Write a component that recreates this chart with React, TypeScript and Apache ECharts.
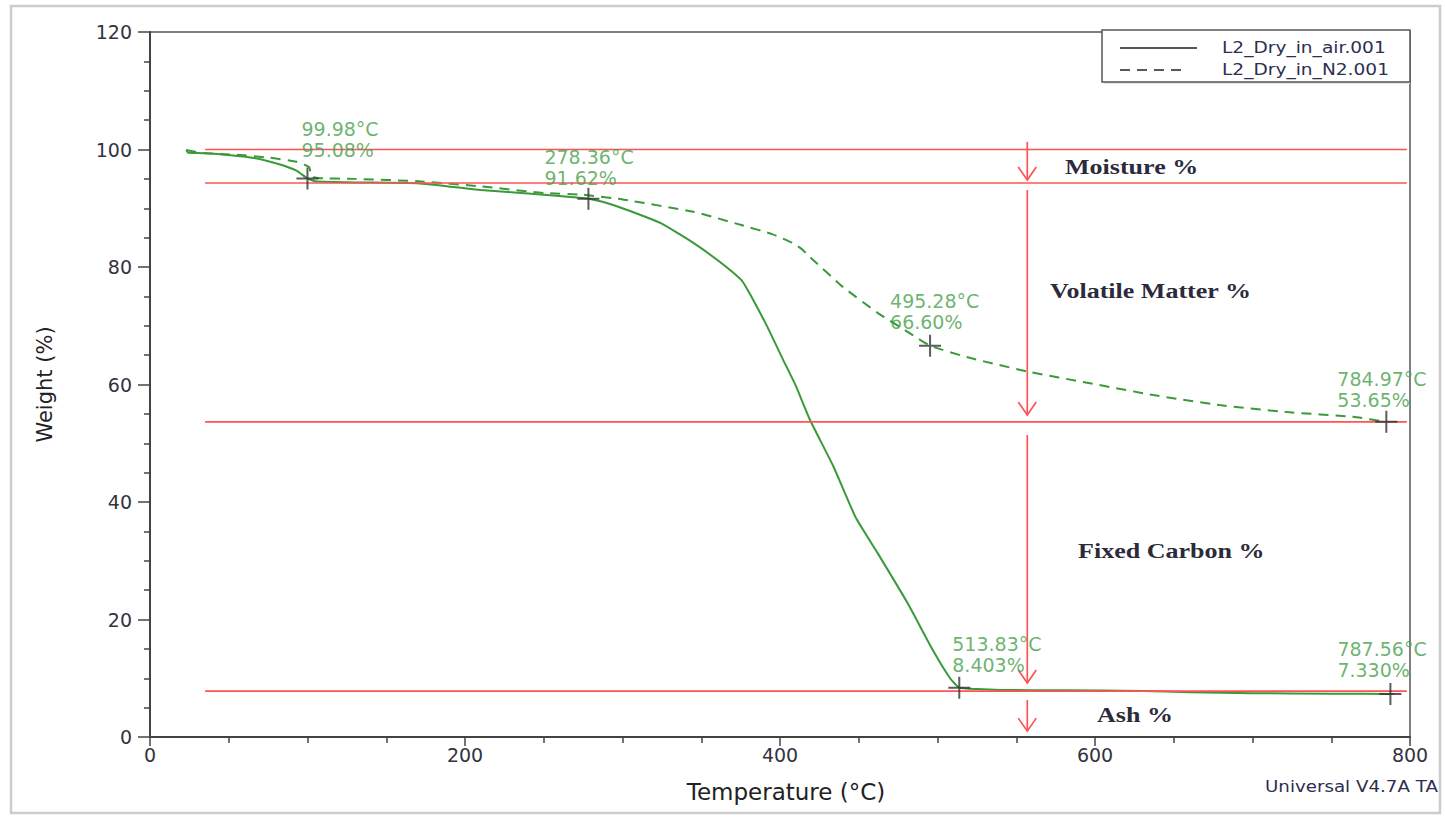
import React, { useEffect, useRef } from "react";
import * as echarts from "echarts";

// ---- data ----
const airTemp = [23, 24, 30, 44, 65, 82, 93, 99.98, 105, 130, 170, 210, 240, 260, 278.36, 290, 303, 324, 345, 366, 376, 383, 392, 402, 410, 419, 434, 448, 462, 481, 497, 508, 513.83, 525, 540, 580, 630, 660, 700, 750, 787.56, 790];
const airWeight = [99.9, 99.5, 99.4, 99.2, 98.6, 97.5, 96.4, 95.08, 94.6, 94.4, 94.25, 93.1, 92.5, 92.1, 91.62, 90.9, 89.7, 87.5, 84.1, 80.0, 77.6, 74.4, 69.8, 64.2, 59.8, 54.0, 46.0, 37.4, 31.3, 22.8, 14.8, 10.0, 8.403, 8.15, 8.0, 7.95, 7.85, 7.6, 7.45, 7.38, 7.33, 7.32];

const n2Temp = [23, 34, 55, 76, 93, 101, 102, 103, 108, 130, 170, 211, 250, 275, 300, 345, 376, 395, 408, 414, 419, 440, 462, 482, 495.28, 521, 559, 595, 637, 679, 722, 764, 784.97];
const n2Weight = [99.9, 99.4, 99.1, 98.6, 97.9, 97.0, 96.0, 95.3, 95.1, 95.0, 94.6, 93.7, 92.6, 92.3, 91.5, 89.4, 87.1, 85.6, 84.1, 83.0, 81.7, 76.6, 72.2, 68.8, 66.6, 64.5, 62.1, 60.3, 58.2, 56.5, 55.3, 54.5, 53.65];

const pointTemp = [99.98, 278.36, 495.28, 784.97, 513.83, 787.56];
const pointWeight = [95.08, 91.62, 66.6, 53.65, 8.403, 7.33];

const stepLevels = [100, 94.3, 53.65, 7.8];
const stepSpan = [35, 798];

const arrowTemp = 557;
const arrowFrom = [101.3, 93.1, 51.4, 6.3];
const arrowTo = [94.8, 54.8, 9.2, 1.0];

const seriesNames = ["L2_Dry_in_air.001", "L2_Dry_in_N2.001"];
const regionLabels = ["Moisture %", "Volatile Matter %", "Fixed Carbon %", "Ash %"];

// ---- styles ----
const GREEN = "#3a9a3a";
const LABEL_GREEN = "#46a04a";
const RED = "#ff5252";
const DARK = "#333340";
const LABEL_OFFSETS = [[-6, -60], [-44, -52], [-40, -55], [-49, -53], [-7, -54], [-53, -55]];
const REGION_POS = [[1065, 167], [1050, 291], [1078, 551], [1097, 715]];

export default function App() {
  const ref = useRef<HTMLDivElement>(null);

  useEffect(() => {
    if (!ref.current) return;
    const chart = echarts.init(ref.current, null, { renderer: "svg" });

    const airData = airTemp.map((t, i) => [t, airWeight[i]]);
    const n2Data = n2Temp.map((t, i) => [t, n2Weight[i]]);
    const pointData = pointTemp.map((t, i) => ({
      value: [t, pointWeight[i]],
      label: { offset: LABEL_OFFSETS[i] },
    }));
    const stepData = stepLevels.map((v) => [stepSpan[0], stepSpan[1], v]);
    const arrowData = arrowFrom.map((f, i) => [arrowTemp, f, arrowTo[i]]);

    const tickFont = { fontFamily: "DejaVu Sans", fontSize: 19, color: DARK };

    const option: any = {
      animation: false,
      backgroundColor: "#ffffff",
      grid: {
        left: 150,
        right: 35,
        top: 32,
        bottom: 80,
        show: true,
        borderColor: "#555",
        borderWidth: 1.5,
        backgroundColor: "transparent",
      },
      xAxis: {
        type: "value",
        min: 0,
        max: 800,
        interval: 200,
        name: "Temperature (°C)",
        nameLocation: "middle",
        nameGap: 43,
        nameTextStyle: { fontFamily: "DejaVu Sans", fontSize: 23, color: "#222", padding: [0, 0, 0, 12] },
        axisLine: { show: true, onZero: false, lineStyle: { color: "#444", width: 2 } },
        axisTick: { show: true, length: 9, lineStyle: { color: "#444", width: 1.5 } },
        minorTick: { show: true, splitNumber: 4, length: 6, lineStyle: { color: "#444", width: 1.5 } },
        axisLabel: { ...tickFont, margin: 8 },
        splitLine: { show: false },
      },
      yAxis: {
        type: "value",
        min: 0,
        max: 120,
        interval: 20,
        name: "Weight (%)",
        nameLocation: "middle",
        nameRotate: 90,
        nameGap: 95,
        nameTextStyle: { fontFamily: "DejaVu Sans", fontSize: 21, color: "#222" },
        axisLine: { show: true, onZero: false, lineStyle: { color: "#444", width: 2 } },
        axisTick: { show: true, length: 12, lineStyle: { color: "#444", width: 1.5 } },
        minorTick: { show: true, splitNumber: 4, length: 6, lineStyle: { color: "#444", width: 1.5 } },
        axisLabel: { ...tickFont, margin: 18 },
        splitLine: { show: false },
      },
      series: [
        {
          name: seriesNames[0],
          type: "line",
          data: airData,
          showSymbol: false,
          symbol: "none",
          smooth: 0.15,
          lineStyle: { color: GREEN, width: 2 },
          z: 3,
        },
        {
          name: seriesNames[1],
          type: "line",
          data: n2Data,
          showSymbol: false,
          symbol: "none",
          smooth: 0.15,
          lineStyle: { color: GREEN, width: 2, type: [10, 7] },
          z: 3,
        },
        {
          type: "custom",
          name: "steps",
          data: stepData,
          z: 4,
          silent: true,
          renderItem: (_p: any, api: any) => {
            const a = api.coord([api.value(0), api.value(2)]);
            const b = api.coord([api.value(1), api.value(2)]);
            return {
              type: "line",
              shape: { x1: a[0], y1: a[1], x2: b[0], y2: b[1] },
              style: { stroke: RED, lineWidth: 1.7 },
            };
          },
        },
        {
          type: "custom",
          name: "arrows",
          data: arrowData,
          z: 4,
          silent: true,
          renderItem: (_p: any, api: any) => {
            const a = api.coord([api.value(0), api.value(1)]);
            const b = api.coord([api.value(0), api.value(2)]);
            return {
              type: "group",
              children: [
                {
                  type: "line",
                  shape: { x1: a[0], y1: a[1], x2: b[0], y2: b[1] },
                  style: { stroke: RED, lineWidth: 1.7 },
                },
                {
                  type: "polyline",
                  shape: { points: [[b[0] - 9, b[1] - 13], [b[0], b[1]], [b[0] + 9, b[1] - 13]] },
                  style: { stroke: RED, lineWidth: 1.7, fill: "none" },
                },
              ],
            };
          },
        },
        {
          type: "scatter",
          name: "points",
          data: pointData,
          symbol: "path://M10,0 L12,0 L12,22 L10,22 Z M0,10 L22,10 L22,12 L0,12 Z",
          symbolSize: [22, 22],
          itemStyle: { color: "#333" },
          z: 6,
          label: {
            show: true,
            position: "inside",
            align: "left",
            verticalAlign: "top",
            fontFamily: "DejaVu Sans",
            fontSize: 19,
            lineHeight: 21,
            color: LABEL_GREEN,
            formatter: (p: any) =>
              `${p.value[0].toFixed(2)}°C\n${p.value[1].toPrecision(4)}%`,
          },
        },
      ],
      graphic: [
        {
          type: "rect",
          shape: { x: 11, y: 6, width: 1429, height: 807 },
          style: { fill: "none", stroke: "#cccccc", lineWidth: 2.5 },
          silent: true,
          z: 0,
        },
        {
          type: "rect",
          shape: { x: 1104, y: 32, width: 306, height: 52 },
          style: { fill: "#e6e6e6", stroke: "none" },
          z: 9,
        },
        {
          type: "rect",
          shape: { x: 1102, y: 30, width: 308, height: 52 },
          style: { fill: "#ffffff", stroke: "#555", lineWidth: 1.5 },
          z: 10,
        },
        {
          type: "line",
          shape: { x1: 1120, y1: 48, x2: 1197, y2: 48 },
          style: { stroke: "#222", lineWidth: 1.5 },
          z: 11,
        },
        {
          type: "line",
          shape: { x1: 1120, y1: 70, x2: 1187, y2: 70 },
          style: { stroke: "#222", lineWidth: 1.5, lineDash: [10, 7] },
          z: 11,
        },
        ...seriesNames.map((n, i) => ({
          type: "text",
          x: 1222,
          y: 48 + i * 22,
          scaleX: 1.24,
          z: 11,
          style: {
            text: n,
            x: 0,
            y: 0,
            fontFamily: "DejaVu Sans",
            fontSize: 15,
            fill: "#2e2e50",
            verticalAlign: "middle",
            align: "left",
          },
        })),
        ...regionLabels.map((t, i) => ({
          type: "text",
          x: REGION_POS[i][0],
          y: REGION_POS[i][1],
          scaleX: 1.24,
          z: 11,
          style: {
            text: t,
            x: 0,
            y: 0,
            fontFamily: "Liberation Serif",
            fontWeight: "bold",
            fontSize: 21,
            fill: "#2b2b3b",
            verticalAlign: "middle",
            align: "left",
          },
        })),
        {
          type: "text",
          x: 1265,
          y: 786,
          scaleX: 1.14,
          z: 11,
          style: {
            text: "Universal V4.7A TA",
            x: 0,
            y: 0,
            fontFamily: "DejaVu Sans",
            fontSize: 16,
            fill: "#2e2e50",
            verticalAlign: "middle",
            align: "left",
          },
        },
      ],
    };

    chart.setOption(option);
    return () => chart.dispose();
  }, []);

  return (
    <div
      ref={ref}
      style={{ position: "fixed", left: 0, top: 0, width: 1445, height: 817, background: "#fff" }}
    />
  );
}
